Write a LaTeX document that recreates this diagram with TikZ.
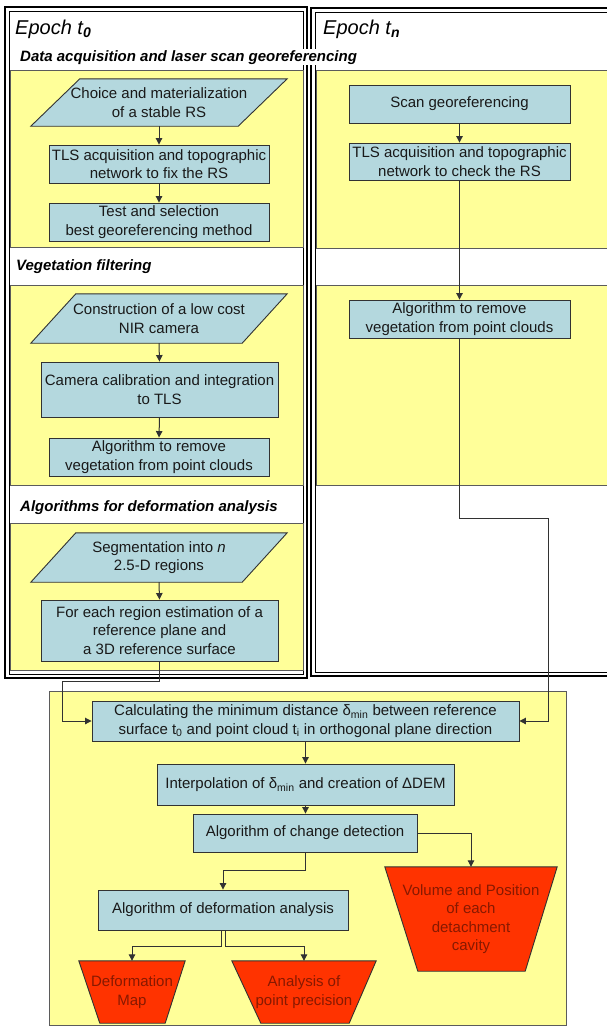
\documentclass[tikz,border=0pt]{standalone}
\usepackage{fontspec}
\setmainfont{Liberation Sans}
\usetikzlibrary{arrows.meta,calc}
\pgfdeclarelayer{back}
\pgfdeclarelayer{mid}
\pgfsetlayers{back,mid,main}
\definecolor{yel}{RGB}{255,255,153}
\definecolor{blu}{RGB}{180,216,222}
\definecolor{redf}{RGB}{255,51,0}
\definecolor{redt}{RGB}{135,25,0}
\definecolor{edgec}{RGB}{50,50,50}
\definecolor{txtc}{RGB}{25,25,25}
\newcommand\mkpar[2]{% node name, slant
  \begin{pgfonlayer}{mid}
  \draw[edgec,fill=blu,line width=0.9pt] ($(#1.north west)+(#2,0)$) -- (#1.north east) -- ($(#1.south east)+(-#2,0)$) -- (#1.south west) -- cycle;
  \end{pgfonlayer}}
\newcommand\mktrap[3]{% node name, left inset, right inset
  \begin{pgfonlayer}{mid}
  \draw[edgec,fill=redf,line width=0.9pt] (#1.north west) -- (#1.north east) -- ($(#1.south east)+(-#3,0)$) -- ($(#1.south west)+(#2,0)$) -- cycle;
  \end{pgfonlayer}}
\tikzset{
  nfont/.style={font=\fontsize{15}{18.5}\selectfont},
  box/.style={nfont, draw=edgec, fill=blu, line width=0.9pt, align=center, inner sep=0pt, text=txtc},
  bare/.style={nfont, align=center, inner sep=0pt, text=txtc},
  trap/.style={nfont, align=center, inner sep=0pt, text=redt},
  ybox/.style={fill=yel, draw=edgec!80, line width=0.8pt},
  conn/.style={edgec, line width=1pt},
  arr/.style={conn, -{Triangle[length=6.5pt,width=6.5pt]}},
  sect/.style={font=\fontsize{15}{17}\selectfont\bfseries\itshape, anchor=base west, inner sep=1pt, text=black},
  epoch/.style={font=\fontsize{20}{22}\selectfont\itshape, anchor=base west, inner sep=0pt, text=black},
}
\begin{document}
\begin{tikzpicture}[x=1pt,y=-1pt]
\useasboundingbox (0,0) rectangle (607,1026);
% frames
\begin{pgfonlayer}{back}
\fill[white] (0,0) rectangle (607,1026);
\draw[black,line width=1.8pt] (5,7) rectangle (307,678);
\draw[black,line width=0.8pt] (9,11) rectangle (303,674);
\draw[black,line width=1.8pt] (607,8) -- (311,8) -- (311,676) -- (607,676);
\draw[black,line width=0.8pt] (607,12) -- (315,12) -- (315,672) -- (607,672);
% yellow panels
\draw[ybox] (10,70) rectangle (303,247);
\draw[ybox] (10,285) rectangle (303,485);
\draw[ybox] (10,523) rectangle (303,670);
\fill[yel] (316,70) rectangle (607,248);
\draw[edgec!80,line width=0.8pt] (607,70) -- (316,70) -- (316,248) -- (607,248);
\fill[yel] (316,285) rectangle (607,485);
\draw[edgec!80,line width=0.8pt] (607,285) -- (316,285) -- (316,485) -- (607,485);
\draw[ybox] (49,691) rectangle (566,1025);
\end{pgfonlayer}
% titles
\node[epoch] (e0) at (15,34) {Epoch t\textsubscript{\bfseries 0}};
\node[epoch] (en) at (323,34) {Epoch t\textsubscript{\bfseries n}};
\node[sect,fill=white] (s1) at (19,61) {Data acquisition and laser scan georeferencing};
\node[sect] (s2) at (15,270) {Vegetation filtering};
\node[sect] (s3) at (19,511) {Algorithms for deformation analysis};
% left column
\node[bare,minimum width=256pt,minimum height=47pt] (p1) at (159,102.5) {Choice and materialization\\of a stable RS};
\mkpar{p1}{49}
\node[box,minimum width=220pt,minimum height=38pt] (b1) at (159,164) {TLS acquisition and topographic\\network to fix the RS};
\node[box,minimum width=220pt,minimum height=38pt] (b2) at (159,222) {Test and selection\\best georeferencing method};
\node[bare,minimum width=256pt,minimum height=49pt] (p2) at (159,318.5) {Construction of a low cost\\NIR camera};
\mkpar{p2}{45}
\node[box,minimum width=237pt,minimum height=55pt] (b3) at (159.5,389.5) {Camera calibration and integration\\to TLS};
\node[box,minimum width=220pt,minimum height=38pt] (b4) at (159,457) {Algorithm to remove\\vegetation from point clouds};
\node[bare,minimum width=256pt,minimum height=49pt] (p3) at (159,557.5) {Segmentation into \textit{n}\\2.5-D regions};
\mkpar{p3}{45}
\node[box,minimum width=237pt,minimum height=61pt] (b5) at (159.5,630.5) {For each region estimation of a\\reference plane and\\a 3D reference surface};
% right column
\node[box,minimum width=221pt,minimum height=38pt] (r1) at (459.5,104) {Scan georeferencing};
\node[box,minimum width=221pt,minimum height=37pt] (r2) at (459.5,161.5) {TLS acquisition and topographic\\network to check the RS};
\node[box,minimum width=221pt,minimum height=38pt] (r3) at (459.5,319) {Algorithm to remove\\vegetation from point clouds};
% bottom
\node[box,minimum width=427pt,minimum height=40pt] (calc) at (305.5,721) {Calculating the minimum distance δ\textsubscript{min} between reference\\surface t\textsubscript{0} and point cloud t\textsubscript{i} in orthogonal plane direction};
\node[box,minimum width=297pt,minimum height=41pt] (interp) at (305.5,784.5) {Interpolation of δ\textsubscript{min} and creation of ΔDEM};
\node[box,minimum width=224pt,minimum height=38pt] (chg) at (305,833) {Algorithm of change detection};
\node[box,minimum width=250pt,minimum height=40pt] (defan) at (223,910) {Algorithm of deformation analysis};
\node[trap,minimum width=172pt,minimum height=104pt] (vol) at (471,919) {Volume and Position\\of each\\detachment\\cavity};
\mktrap{vol}{33}{32}
\node[trap,minimum width=106pt,minimum height=62pt] (dmap) at (132,992) {Deformation\\Map};
\mktrap{dmap}{21}{20}
\node[trap,minimum width=144pt,minimum height=62pt] (aprec) at (304,992) {Analysis of\\point precision};
\mktrap{aprec}{29}{27}
% connectors
\draw[arr] (p1.south) -- (b1.north);
\draw[arr] (b1.south) -- (b2.north);
\draw[arr] (p2.south) -- (b3.north);
\draw[arr] (b3.south) -- (b4.north);
\draw[arr] (p3.south) -- (b5.north);
\draw[arr] (r1.south) -- (r2.north);
\draw[arr] (r2.south) -- (r3.north);
\coordinate (rc1) at (459.5,518);
\coordinate (rc2) at (548,518);
\coordinate (lc1) at (159.5,681);
\coordinate (lc2) at (62,681);
\draw[arr] (r3.south) -- (rc1) -- (rc2) |- (calc.east);
\draw[arr] (b5.south) -- (lc1) -- (lc2) |- (calc.west);
\draw[arr] (calc.south) -- (calc.south |- interp.north);
\draw[arr] (interp.south) -- (interp.south |- chg.north);
\draw[arr] (chg.south) -- ++(0,18) -| (defan.north);
\draw[arr] (chg.east) -| (vol.north);
\draw[arr] ($(defan.south)+(-2,0)$) -- ++(0,16) -| (dmap.north);
\draw[arr] ($(defan.south)+(2,0)$) -- ++(0,16) -| (aprec.north);
\end{tikzpicture}
\end{document}
